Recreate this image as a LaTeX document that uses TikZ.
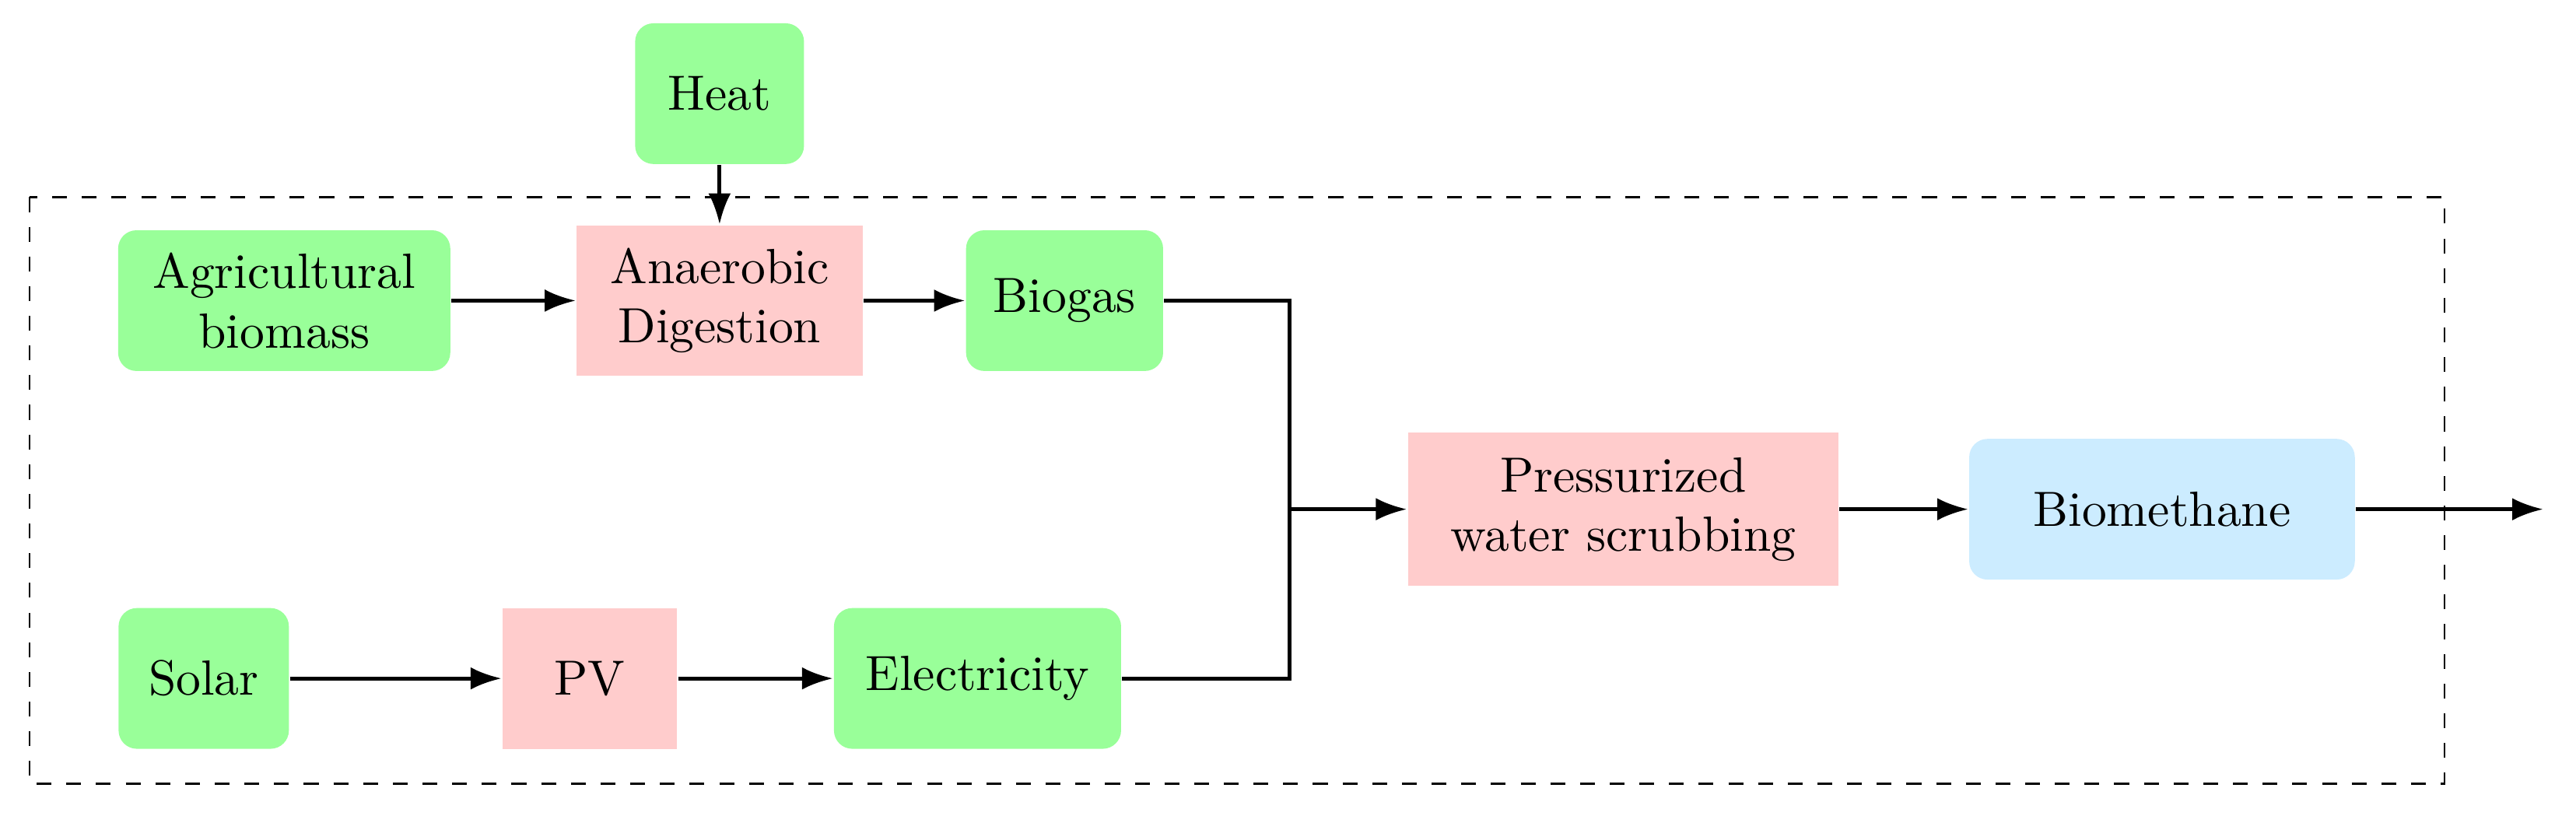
\documentclass[tikz,border=0pt]{standalone}
\usetikzlibrary{arrows.meta}
\definecolor{gbox}{RGB}{153,255,153}
\definecolor{pbox}{RGB}{255,204,204}
\definecolor{bbox}{RGB}{204,236,255}
\begin{document}
\begin{tikzpicture}[x=0.01167cm,y=-0.01167cm,
  base/.style={inner sep=0pt,align=center,minimum height=1.0cm},
  res/.style={base,fill=gbox,rounded corners=0.13cm},
  proc/.style={base,fill=pbox},
  prod/.style={base,fill=bbox,rounded corners=0.13cm},
  arr/.style={thick,-{Latex[length=2.2mm,width=1.6mm]}},
  ln/.style={thick}]
\useasboundingbox (0,0) rectangle (1568,505);
\draw[dashed] (18,120) rectangle (1488,477);
\node[res,minimum width=1.20cm] (heat) at (438,57) {Heat};
\node[res,minimum width=2.36cm] (agri) at (173,183) {Agricultural\\biomass};
\node[proc,minimum width=2.03cm,minimum height=1.07cm] (ad) at (438,183) {Anaerobic\\Digestion};
\node[res,minimum width=1.40cm] (biogas) at (648,183) {Biogas};
\node[res,minimum width=1.21cm] (solar) at (124,413) {Solar};
\node[proc,minimum width=1.24cm] (pv) at (359,413) {PV};
\node[res,minimum width=2.04cm] (elec) at (595,413) {Electricity};
\node[proc,minimum width=3.06cm,minimum height=1.09cm] (pws) at (988,310) {Pressurized\\water scrubbing};
\node[prod,minimum width=2.74cm] (bio) at (1316,310) {Biomethane};
\coordinate (j) at (785,310);
\coordinate (end) at (1548,310);
\draw[arr] (heat) -- (ad);
\draw[arr] (agri) -- (ad);
\draw[arr] (ad) -- (biogas);
\draw[arr] (solar) -- (pv);
\draw[arr] (pv) -- (elec);
\draw[ln] (biogas.east) -| (j);
\draw[ln] (elec.east) -| (j);
\draw[arr] (j) -- (pws);
\draw[arr] (pws) -- (bio);
\draw[arr] (bio) -- (end);
\end{tikzpicture}
\end{document}
